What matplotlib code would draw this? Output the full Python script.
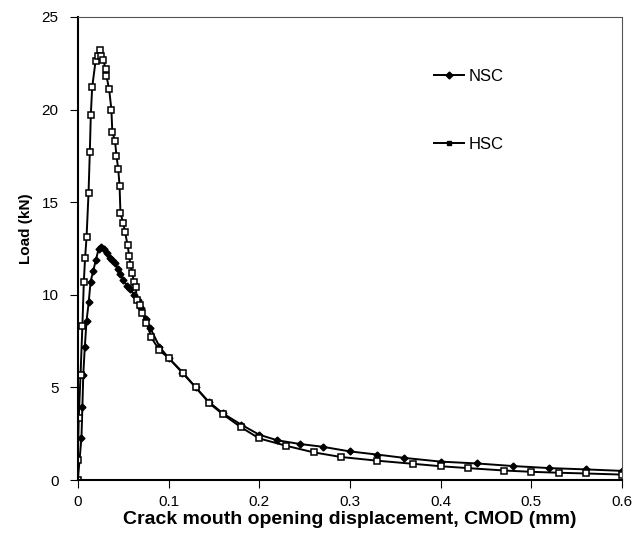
import matplotlib.pyplot as plt
from matplotlib.lines import Line2D

plt.rcParams['font.family'] = ['Liberation Sans', 'DejaVu Sans']

# NSC curve
nsc_x = [0, 0.004, 0.005, 0.006, 0.0077, 0.0096, 0.012, 0.014, 0.017, 0.020,
         0.023, 0.026, 0.029, 0.032, 0.035, 0.038, 0.041, 0.044, 0.047, 0.050,
         0.054, 0.058, 0.062, 0.066, 0.070, 0.075, 0.080, 0.090, 0.10, 0.115,
         0.13, 0.145, 0.16, 0.18, 0.20, 0.22, 0.245, 0.27, 0.30, 0.33, 0.36,
         0.40, 0.44, 0.48, 0.52, 0.56, 0.60]
nsc_y = [0, 2.3, 3.95, 5.7, 7.2, 8.6, 9.6, 10.7, 11.3, 11.9,
         12.5, 12.6, 12.45, 12.25, 12.0, 11.9, 11.7, 11.4, 11.1, 10.8,
         10.5, 10.3, 10.0, 9.7, 9.3, 8.7, 8.2, 7.2, 6.6, 5.8,
         5.0, 4.2, 3.6, 3.0, 2.45, 2.15, 1.95, 1.8, 1.55, 1.38, 1.2,
         1.0, 0.9, 0.76, 0.65, 0.58, 0.5]

# HSC curve
hsc_x = [0, 0, 0.001, 0.003, 0.005, 0.0066, 0.008, 0.0096, 0.0118, 0.0132,
         0.0143, 0.0158, 0.0195, 0.022, 0.024, 0.026, 0.028, 0.0305, 0.0316, 0.0345,
         0.037, 0.038, 0.041, 0.0426, 0.0445, 0.046, 0.047, 0.050, 0.052, 0.0548,
         0.0566, 0.058, 0.060, 0.0617, 0.064, 0.065, 0.068, 0.071, 0.0757, 0.081,
         0.090, 0.10, 0.116, 0.13, 0.145, 0.16, 0.18, 0.20, 0.23, 0.26,
         0.29, 0.33, 0.37, 0.40, 0.43, 0.47, 0.50, 0.53, 0.56, 0.60]
hsc_y = [0, 1.08, 3.35, 5.7, 8.3, 10.7, 12.0, 13.1, 15.5, 17.7,
         19.7, 21.2, 22.6, 22.9, 23.2, 22.9, 22.7, 22.2, 21.8, 21.1,
         20.0, 18.8, 18.3, 17.5, 16.8, 15.9, 14.4, 13.9, 13.4, 12.7,
         12.1, 11.6, 11.2, 10.7, 10.4, 9.7, 9.45, 9.0, 8.5, 7.7,
         7.0, 6.6, 5.8, 5.0, 4.15, 3.55, 2.85, 2.25, 1.85, 1.5,
         1.25, 1.05, 0.88, 0.75, 0.65, 0.52, 0.45, 0.4, 0.36, 0.3]

xticks = [0, 0.1, 0.2, 0.3, 0.4, 0.5, 0.6]
xticklabels = ['0', '0.1', '0.2', '0.3', '0.4', '0.5', '0.6']
yticks = [0, 5, 10, 15, 20, 25]

fig = plt.figure(figsize=(6.38, 5.45), dpi=100)
ax = fig.add_axes([0.122, 0.119, 0.853, 0.850])

ax.plot(nsc_x, nsc_y, color='black', lw=1.4, marker='D', ms=3.5,
        mfc='black', mec='black')
ax.plot(hsc_x, hsc_y, color='black', lw=1.4, marker='s', ms=4,
        mfc='white', mec='black', mew=1.1)

ax.set_xlim(0, 0.6)
ax.set_ylim(0, 25)
ax.set_xticks(xticks)
ax.set_xticklabels(xticklabels)
ax.set_yticks(yticks)
ax.tick_params(direction='out', length=6)
ax.tick_params(axis='x', labelsize=11, pad=5)
ax.tick_params(axis='y', labelsize=11, pad=8)

ax.spines['top'].set_linestyle((0, (2, 1)))
ax.spines['right'].set_linestyle((0, (2, 1)))
ax.spines['top'].set_color('#555555')
ax.spines['right'].set_color('#555555')
ax.spines['left'].set_linewidth(1.5)
ax.spines['bottom'].set_linewidth(1.5)

ax.set_xlabel('Crack mouth opening displacement, CMOD (mm)', fontsize=14,
              fontweight='bold', labelpad=1)
ax.set_ylabel('Load (kN)', fontsize=11, fontweight='bold')
ax.yaxis.set_label_coords(-0.083, 0.542)

handles = [Line2D([], [], color='black', lw=1.4, marker='D', ms=3.5),
           Line2D([], [], color='black', lw=1.4, marker='s', ms=3.5)]
ax.legend(handles, ['NSC', 'HSC'], loc='upper left',
          bbox_to_anchor=(0.626, 0.92), frameon=False, fontsize=12,
          labelspacing=3.2, handlelength=1.8, handletextpad=0.3)

fig.savefig('out.png', dpi=100)
